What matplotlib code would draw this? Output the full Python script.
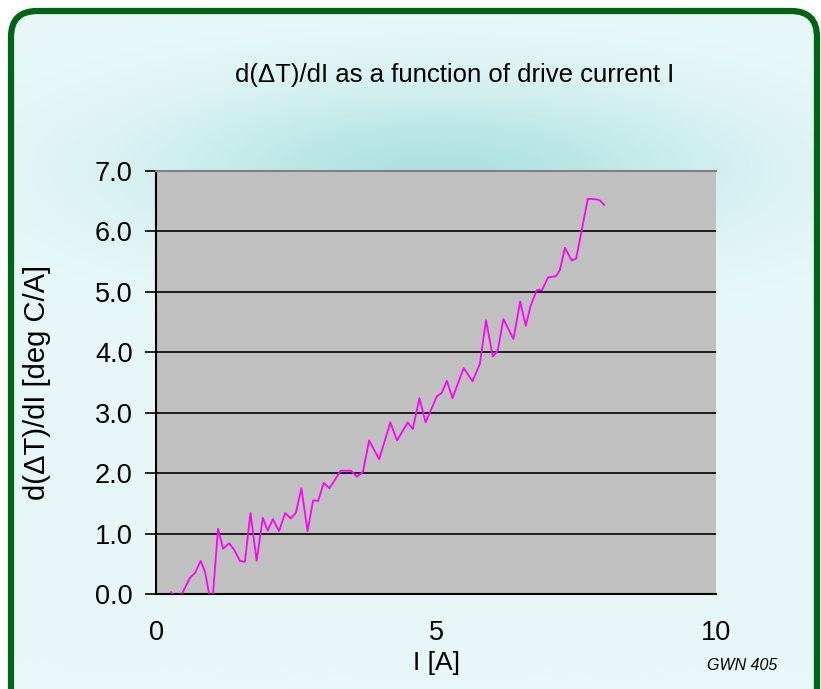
import matplotlib.pyplot as plt
import numpy as np
from matplotlib.patches import FancyBboxPatch

plt.rcParams['font.family'] = ['Liberation Sans', 'DejaVu Sans']

# values (drive current I [A], d(dT)/dI [deg C/A])
current = [0.26, 0.37, 0.47, 0.60, 0.69, 0.79, 0.87, 0.94, 0.97, 1.01,
           1.10, 1.19, 1.30, 1.39, 1.49, 1.58, 1.68, 1.79, 1.90, 1.99,
           2.08, 2.19, 2.30, 2.40, 2.49, 2.59, 2.70, 2.80, 2.89, 2.99,
           3.09, 3.19, 3.29, 3.48, 3.58, 3.69, 3.80, 3.98, 4.18, 4.30,
           4.49, 4.58, 4.70, 4.81, 5.01, 5.10, 5.19, 5.29, 5.49, 5.65,
           5.78, 5.89, 6.01, 6.10, 6.20, 6.38, 6.50, 6.60, 6.69, 6.80,
           6.89, 7.00, 7.14, 7.21, 7.30, 7.42, 7.50, 7.60, 7.71, 7.87,
           7.93, 8.00]
slope = [0.03, -0.10, 0.03, 0.27, 0.35, 0.55, 0.36, 0.00, -0.10, 0.00,
         1.08, 0.75, 0.84, 0.73, 0.55, 0.53, 1.34, 0.55, 1.26, 1.05,
         1.24, 1.04, 1.34, 1.25, 1.34, 1.75, 1.04, 1.55, 1.54, 1.84,
         1.75, 1.89, 2.04, 2.04, 1.94, 2.02, 2.54, 2.23, 2.84, 2.54,
         2.84, 2.73, 3.24, 2.84, 3.27, 3.33, 3.53, 3.24, 3.74, 3.52,
         3.81, 4.53, 3.93, 4.03, 4.55, 4.22, 4.84, 4.44, 4.78, 5.03,
         5.03, 5.24, 5.26, 5.36, 5.73, 5.52, 5.55, 6.02, 6.54, 6.53,
         6.51, 6.44]

x_ticks = [0, 5, 10]
y_ticks = [0, 1, 2, 3, 4, 5, 6, 7]

W, H = 821, 689
fig = plt.figure(figsize=(W / 100, H / 100), dpi=100)
fig.patch.set_facecolor('white')

# background panel with a soft teal glow above the plot
bg = fig.add_axes([0, 0, 1, 1])
bg.set_xlim(0, W)
bg.set_ylim(H, 0)
bg.axis('off')
xx, yy = np.meshgrid(np.arange(W), np.arange(H))
glow = np.exp(-((xx - 440) / 290.0) ** 2 - ((yy - 170) / 85.0) ** 2)
base = np.array([232, 248, 248]) / 255.0
dark = np.array([176, 226, 226]) / 255.0
img = base[None, None, :] * (1 - glow[..., None]) + dark[None, None, :] * glow[..., None]
im = bg.imshow(img, extent=(0, W, H, 0), zorder=0)
panel = FancyBboxPatch((11, 11), 806, 760, boxstyle='round,pad=0,rounding_size=26',
                       facecolor='none', edgecolor='#006414', linewidth=4.5, zorder=2)
bg.add_patch(panel)
im.set_clip_path(panel)

ax = fig.add_axes([0.1906, 0.1379, 0.6815, 0.6139])
ax.set_facecolor('#C0C0C0')
ax.plot(current, slope, color='#FF00FF', linewidth=1.3, zorder=3)
ax.set_xlim(0, 10)
ax.set_ylim(0, 7)
ax.set_xticks(x_ticks)
ax.set_yticks(y_ticks)
ax.set_yticklabels(['%.1f' % v for v in y_ticks])
ax.yaxis.grid(True, color='black', linewidth=1.2)
ax.set_axisbelow(True)
ax.tick_params(axis='y', direction='out', length=8, width=1.2, labelsize=19.5, pad=9)
ax.tick_params(axis='x', direction='out', length=0, labelsize=19.5, pad=19)
ax.spines['left'].set_linewidth(1.5)
ax.spines['bottom'].set_linewidth(1.5)
ax.spines['right'].set_visible(False)
ax.spines['top'].set_color('#808080')
ax.spines['top'].set_linewidth(1.5)

ax.set_xlabel('I [A]', fontsize=19, labelpad=3)
ax.set_ylabel('d(\u0394T)/dI [deg C/A]', fontsize=21, labelpad=32)
fig.text(455 / W, 1 - 75 / H, 'd(\u0394T)/dI as a function of drive current I',
         fontsize=18.5, ha='center', va='center')
fig.text(742 / W, 1 - 665 / H, 'GWN 405', fontsize=11.5, style='italic',
         ha='center', va='center')

fig.savefig('out.png', dpi=100)
